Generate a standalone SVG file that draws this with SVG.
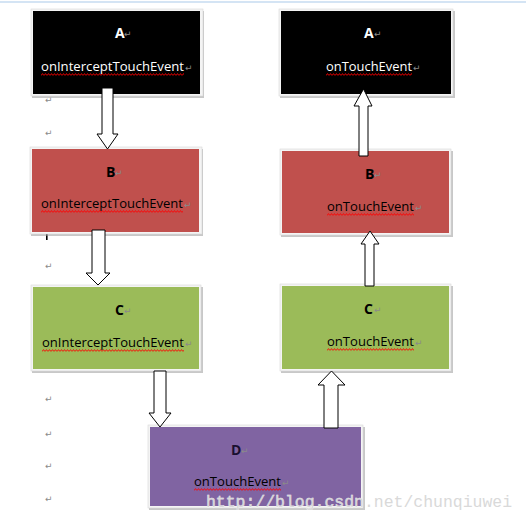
<svg xmlns="http://www.w3.org/2000/svg" width="526" height="523" viewBox="0 0 526 523">
<style>
.frame{fill:#f4f4f4;stroke:#d8d8d8;stroke-width:0.6}
.shadow{fill:#9a9a9a;opacity:0.55}
.lbl{font-family:"Open Sans","Liberation Sans",sans-serif;font-size:14px;font-weight:bold}
.fn{font-family:"Open Sans","Liberation Sans",sans-serif;font-size:13px}
.ret{font-family:"DejaVu Sans",sans-serif;font-size:9px;fill:#8a8a8a}
.w{fill:#ffffff}
.k{fill:#000000}
.arrow{fill:#ffffff;stroke:#000000;stroke-width:1}
.wm{font-family:"Liberation Mono",monospace;font-size:16.5px;fill:#d9d9d9;stroke:#ffffff;stroke-width:0.4;paint-order:stroke}
</style>
<defs>
<pattern id="wave" width="3" height="3" patternUnits="userSpaceOnUse">
<path d="M0,2.6 L1.5,0.6 L3,2.6" fill="none" stroke="#ff0000" stroke-width="0.9"/>
</pattern>
</defs>
<rect width="526" height="523" fill="#ffffff"/>
<line x1="0" y1="2" x2="526" y2="2" stroke="#a9c9ea" stroke-width="1.2"/>

<g id="paragraph-marks">
<text class="ret" x="45" y="103">↵</text>
<text class="ret" x="45" y="136">↵</text>
<text class="ret" x="45" y="269">↵</text>
<text class="ret" x="45" y="402">↵</text>
<text class="ret" x="45" y="437">↵</text>
<text class="ret" x="45" y="469">↵</text>
<text class="ret" x="45" y="502">↵</text>
<rect x="46" y="223" width="1.6" height="8" fill="#2aa0a8"/>
<rect x="46" y="231" width="1.6" height="9" fill="#000"/>
</g>

<g id="nodeA-left">
<rect class="shadow" x="32" y="11" width="172" height="87"/>
<rect class="frame" x="31" y="9" width="172" height="87"/>
<rect x="33" y="11" width="167" height="83" fill="#000"/>
<text class="lbl w" x="115" y="38">A</text><text class="ret" x="124" y="37">↵</text>
<text class="fn w" x="41" y="71" textLength="143" lengthAdjust="spacingAndGlyphs">onInterceptTouchEvent</text><text class="ret" x="185" y="71">↵</text>
<g transform="translate(41,73)"><rect width="143" height="3" fill="url(#wave)"/></g>
</g>

<g id="nodeA-right">
<rect class="shadow" x="280" y="11" width="175" height="87"/>
<rect class="frame" x="279" y="9" width="174" height="87"/>
<rect x="281" y="11" width="170" height="83" fill="#000"/>
<text class="lbl w" x="364" y="38">A</text><text class="ret" x="374" y="37">↵</text>
<text class="fn w" x="326" y="71" textLength="86" lengthAdjust="spacingAndGlyphs">onTouchEvent</text><text class="ret" x="413" y="71">↵</text>
<g transform="translate(326,73)"><rect width="86" height="3" fill="url(#wave)"/></g>
</g>

<g id="nodeB-left">
<rect class="shadow" x="31" y="149" width="172" height="87"/>
<rect class="frame" x="30" y="147" width="172" height="87"/>
<rect x="32" y="149" width="167" height="83" fill="#c0504d"/>
<text class="lbl k" x="106" y="177">B</text><text class="ret" x="115" y="176">↵</text>
<text class="fn k" x="41" y="208" textLength="142" lengthAdjust="spacingAndGlyphs">onInterceptTouchEvent</text><text class="ret" x="184" y="208">↵</text>
<g transform="translate(41,210)"><rect width="142" height="3" fill="url(#wave)"/></g>
</g>

<g id="nodeB-right">
<rect class="shadow" x="281" y="151" width="172" height="86"/>
<rect class="frame" x="280" y="149" width="171" height="86"/>
<rect x="282" y="151" width="167" height="82" fill="#c0504d"/>
<text class="lbl k" x="365" y="179">B</text><text class="ret" x="374" y="178">↵</text>
<text class="fn k" x="327" y="211" textLength="87" lengthAdjust="spacingAndGlyphs">onTouchEvent</text><text class="ret" x="415" y="211">↵</text>
<g transform="translate(327,213)"><rect width="87" height="3" fill="url(#wave)"/></g>
</g>

<g id="nodeC-left">
<rect class="shadow" x="32" y="287" width="171" height="86"/>
<rect class="frame" x="31" y="285" width="170" height="86"/>
<rect x="33" y="287" width="166" height="82" fill="#9bbb59"/>
<text class="lbl k" x="115" y="315">C</text><text class="ret" x="124" y="314">↵</text>
<text class="fn k" x="42" y="347" textLength="142" lengthAdjust="spacingAndGlyphs">onInterceptTouchEvent</text><text class="ret" x="185" y="347">↵</text>
<g transform="translate(42,349)"><rect width="142" height="3" fill="url(#wave)"/></g>
</g>

<g id="nodeC-right">
<rect class="shadow" x="281" y="286" width="172" height="87"/>
<rect class="frame" x="280" y="284" width="171" height="87"/>
<rect x="282" y="286" width="167" height="83" fill="#9bbb59"/>
<text class="lbl k" x="364" y="314">C</text><text class="ret" x="374" y="313">↵</text>
<text class="fn k" x="327" y="346" textLength="87" lengthAdjust="spacingAndGlyphs">onTouchEvent</text><text class="ret" x="415" y="346">↵</text>
<g transform="translate(327,348)"><rect width="87" height="3" fill="url(#wave)"/></g>
</g>

<g id="nodeD">
<rect class="shadow" x="149" y="427" width="216" height="83"/>
<rect class="frame" x="148" y="425" width="215" height="83"/>
<rect x="150" y="427" width="211" height="79" fill="#8064a2"/>
<text class="lbl" x="231" y="455" fill="#1a1030">D</text><text class="ret" x="241" y="454">↵</text>
<text class="fn k" x="194" y="486" textLength="87" lengthAdjust="spacingAndGlyphs">onTouchEvent</text><text class="ret" x="282" y="486">↵</text>
<g transform="translate(194,488)"><rect width="87" height="3" fill="url(#wave)"/></g>
</g>

<g id="connectors">
<polygon class="arrow" points="102,88 113,88 113,134 118,134 107.5,149 97,134 102,134"/>
<polygon class="arrow" points="92,230 105,230 105,273 110,273 98,285 86,273 92,273"/>
<polygon class="arrow" points="154,371 166,371 166,413 171,413 160,427 149,413 154,413"/>
<polygon class="arrow" points="324,428 338,428 338,385 345,385 331.5,371 318,385 324,385"/>
<polygon class="arrow" points="365,286 374,286 374,244 379,244 370,231 361,244 365,244"/>
<polygon class="arrow" points="359,156 368,156 368,106 372,106 363.5,89 354,106 359,106"/>
</g>

<text class="wm" x="206" y="507" textLength="306" lengthAdjust="spacingAndGlyphs">http://blog.csdn.net/chunqiuwei</text>
</svg>
